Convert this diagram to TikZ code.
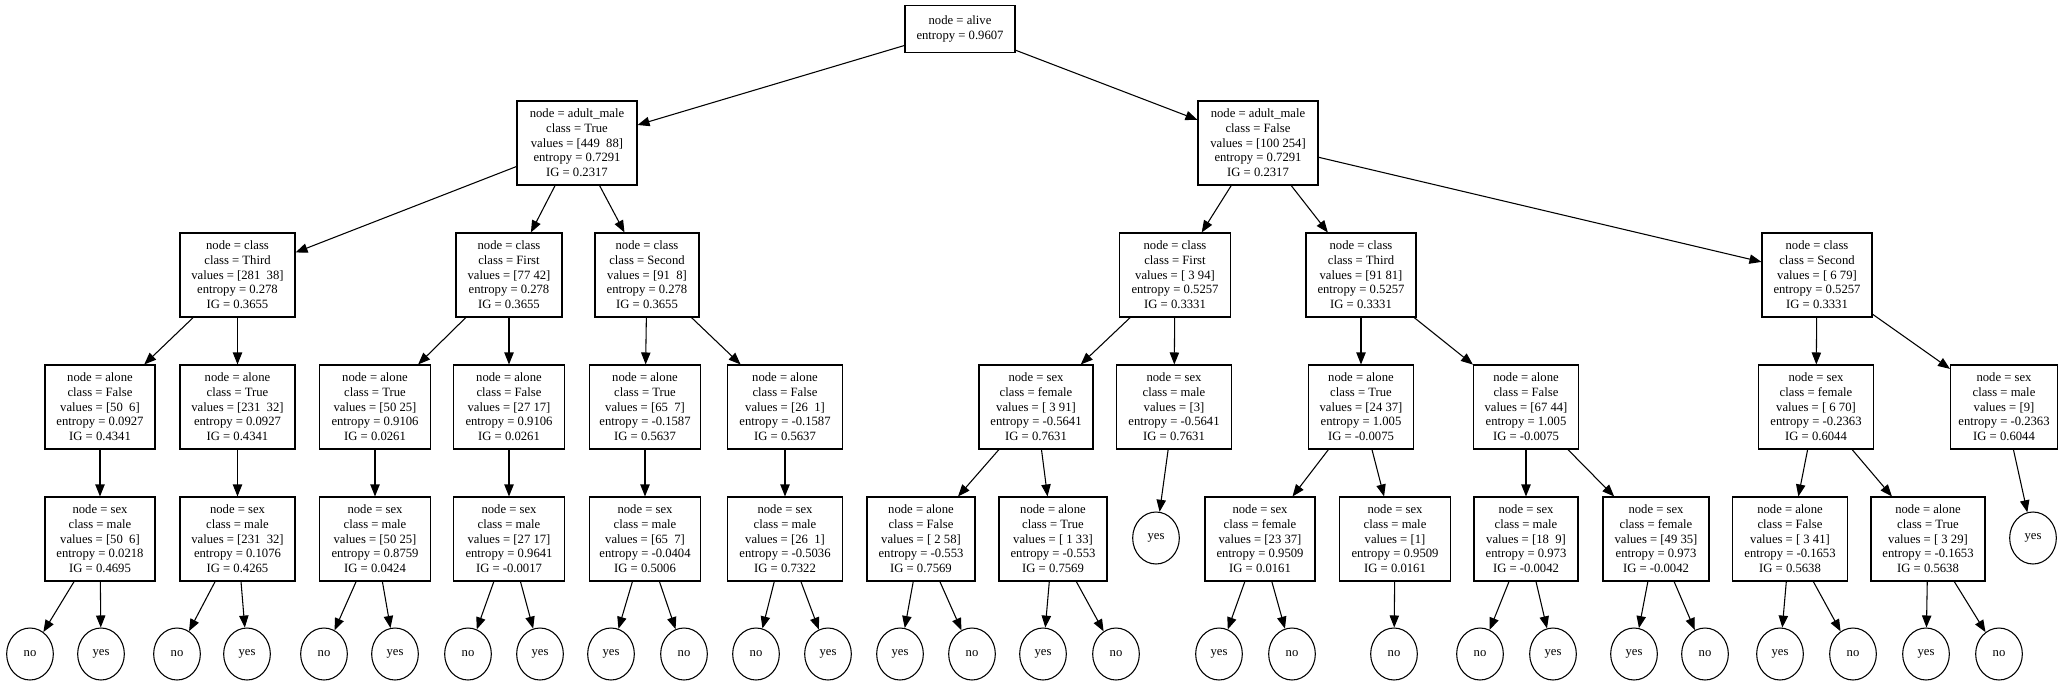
\documentclass[tikz,border=0pt]{standalone}
\usepackage{fontspec}
\setmainfont{Liberation Serif}
\usetikzlibrary{arrows.meta,shapes.geometric}
\tikzset{
  bx/.style={draw, line width=0.8pt, rectangle, minimum height=63pt, align=center, inner sep=0pt, font=\fontsize{9.5}{11}\selectfont},
  lf/.style={draw, line width=0.8pt, ellipse, minimum width=35pt, minimum height=39pt, inner sep=0pt, font=\fontsize{9.5}{11}\selectfont},
  ar/.style={line width=0.8pt, -{Triangle[length=9pt,width=7pt]}}
}
\begin{document}
\begin{tikzpicture}[x=0.75pt,y=-0.75pt]
\fill[white] (0,0) rectangle (2071,683);
\useasboundingbox (0,0) rectangle (2071,683);
% row 1
\node[bx, minimum width=82.5pt, minimum height=35pt] (r) at (960,29) {node = alive\\entropy = 0.9607};
% row 2
\node[bx, minimum width=90pt] (L) at (577,143) {node = adult\_male\\class = True\\values = [449\ \ 88]\\entropy = 0.7291\\IG = 0.2317};
\node[bx, minimum width=90pt] (R) at (1258,143) {node = adult\_male\\class = False\\values = [100 254]\\entropy = 0.7291\\IG = 0.2317};
% row 3
\node[bx, minimum width=86.25pt] (L1) at (237.5,275) {node = class\\class = Third\\values = [281\ \ 38]\\entropy = 0.278\\IG = 0.3655};
\node[bx, minimum width=79.5pt] (L2) at (509,275) {node = class\\class = First\\values = [77 42]\\entropy = 0.278\\IG = 0.3655};
\node[bx, minimum width=78pt] (L3) at (647,275) {node = class\\class = Second\\values = [91\ \ 8]\\entropy = 0.278\\IG = 0.3655};
\node[bx, minimum width=83.25pt] (R1) at (1175,275) {node = class\\class = First\\values = [\ 3 94]\\entropy = 0.5257\\IG = 0.3331};
\node[bx, minimum width=82.5pt] (R2) at (1361,275) {node = class\\class = Third\\values = [91 81]\\entropy = 0.5257\\IG = 0.3331};
\node[bx, minimum width=82.5pt] (R3) at (1817,275) {node = class\\class = Second\\values = [\ 6 79]\\entropy = 0.5257\\IG = 0.3331};
% row 4
\node[bx, minimum width=82.5pt] (L1a) at (100,407) {node = alone\\class = False\\values = [50\ \ 6]\\entropy = 0.0927\\IG = 0.4341};
\node[bx, minimum width=86.25pt] (L1b) at (237.5,407) {node = alone\\class = True\\values = [231\ \ 32]\\entropy = 0.0927\\IG = 0.4341};
\node[bx, minimum width=83.25pt] (L2a) at (375,407) {node = alone\\class = True\\values = [50 25]\\entropy = 0.9106\\IG = 0.0261};
\node[bx, minimum width=83.25pt] (L2b) at (509,407) {node = alone\\class = False\\values = [27 17]\\entropy = 0.9106\\IG = 0.0261};
\node[bx, minimum width=83.25pt] (L3a) at (645,407) {node = alone\\class = True\\values = [65\ \ 7]\\entropy = -0.1587\\IG = 0.5637};
\node[bx, minimum width=86.25pt] (L3b) at (785,407) {node = alone\\class = False\\values = [26\ \ 1]\\entropy = -0.1587\\IG = 0.5637};
\node[bx, minimum width=85.5pt] (R1a) at (1036,407) {node = sex\\class = female\\values = [\ 3 91]\\entropy = -0.5641\\IG = 0.7631};
\node[bx, minimum width=86.25pt] (R1b) at (1174,407) {node = sex\\class = male\\values = [3]\\entropy = -0.5641\\IG = 0.7631};
\node[bx, minimum width=78.75pt] (R2a) at (1361,407) {node = alone\\class = True\\values = [24 37]\\entropy = 1.005\\IG = -0.0075};
\node[bx, minimum width=78.75pt] (R2b) at (1526,407) {node = alone\\class = False\\values = [67 44]\\entropy = 1.005\\IG = -0.0075};
\node[bx, minimum width=86.25pt] (R3a) at (1816,407) {node = sex\\class = female\\values = [\ 6 70]\\entropy = -0.2363\\IG = 0.6044};
\node[bx, minimum width=80.25pt] (R3b) at (2004,407) {node = sex\\class = male\\values = [9]\\entropy = -0.2363\\IG = 0.6044};
% row 5
\node[bx, minimum width=82.5pt] (L1c) at (100,539) {node = sex\\class = male\\values = [50\ \ 6]\\entropy = 0.0218\\IG = 0.4695};
\node[bx, minimum width=86.25pt] (L1d) at (237.5,539) {node = sex\\class = male\\values = [231\ \ 32]\\entropy = 0.1076\\IG = 0.4265};
\node[bx, minimum width=83.25pt] (L2c) at (375,539) {node = sex\\class = male\\values = [50 25]\\entropy = 0.8759\\IG = 0.0424};
\node[bx, minimum width=83.25pt] (L2d) at (509,539) {node = sex\\class = male\\values = [27 17]\\entropy = 0.9641\\IG = -0.0017};
\node[bx, minimum width=83.25pt] (L3c) at (645,539) {node = sex\\class = male\\values = [65\ \ 7]\\entropy = -0.0404\\IG = 0.5006};
\node[bx, minimum width=86.25pt] (L3d) at (785,539) {node = sex\\class = male\\values = [26\ \ 1]\\entropy = -0.5036\\IG = 0.7322};
\node[bx, minimum width=81pt] (R1c) at (921,539) {node = alone\\class = False\\values = [\ 2 58]\\entropy = -0.553\\IG = 0.7569};
\node[bx, minimum width=81pt] (R1d) at (1053,539) {node = alone\\class = True\\values = [\ 1 33]\\entropy = -0.553\\IG = 0.7569};
\node[lf] (R1e) at (1156,538) {yes};
\node[bx, minimum width=82.5pt] (R2c) at (1260,539) {node = sex\\class = female\\values = [23 37]\\entropy = 0.9509\\IG = 0.0161};
\node[bx, minimum width=83.25pt] (R2d) at (1395,539) {node = sex\\class = male\\values = [1]\\entropy = 0.9509\\IG = 0.0161};
\node[bx, minimum width=78pt] (R2e) at (1526,539) {node = sex\\class = male\\values = [18\ \ 9]\\entropy = 0.973\\IG = -0.0042};
\node[bx, minimum width=79.5pt] (R2f) at (1656,539) {node = sex\\class = female\\values = [49 35]\\entropy = 0.973\\IG = -0.0042};
\node[bx, minimum width=86.25pt] (R3c) at (1790,539) {node = alone\\class = False\\values = [\ 3 41]\\entropy = -0.1653\\IG = 0.5638};
\node[bx, minimum width=85.5pt] (R3d) at (1928,539) {node = alone\\class = True\\values = [\ 3 29]\\entropy = -0.1653\\IG = 0.5638};
\node[lf] (R3e) at (2033,538) {yes};
% edges
\foreach \a/\b in {r/L, r/R, L/L1, L/L2, L/L3, R/R1, R/R2, R/R3,
  L1/L1a, L1/L1b, L2/L2a, L2/L2b, L3/L3a, L3/L3b, R1/R1a, R1/R1b, R2/R2a, R2/R2b, R3/R3a, R3/R3b,
  L1a/L1c, L1b/L1d, L2a/L2c, L2b/L2d, L3a/L3c, L3b/L3d, R1a/R1c, R1a/R1d, R1b/R1e,
  R2a/R2c, R2a/R2d, R2b/R2e, R2b/R2f, R3a/R3c, R3a/R3d, R3b/R3e}
  \draw[ar] (\a) -- (\b);
% leaves
\foreach \n/\x/\t/\p in {
  l1/30/no/L1c, l2/101/yes/L1c, l3/177/no/L1d, l4/247/yes/L1d,
  l5/324/no/L2c, l6/395/yes/L2c, l7/468/no/L2d, l8/540/yes/L2d,
  l9/611/yes/L3c, l10/684/no/L3c, l11/756/no/L3d, l12/828/yes/L3d,
  l13/900/yes/R1c, l14/972/no/R1c, l15/1043/yes/R1d, l16/1116/no/R1d,
  l17/1219/yes/R2c, l18/1292/no/R2c, l19/1394/no/R2d,
  l20/1480/no/R2e, l21/1553/yes/R2e, l22/1634/yes/R2f, l23/1705/no/R2f,
  l24/1780/yes/R3c, l25/1853/no/R3c, l26/1926/yes/R3d, l27/1999/no/R3d}
{
  \node[lf] (\n) at (\x,654) {\t};
  \draw[ar] (\p) -- (\n);
}
\end{tikzpicture}
\end{document}
